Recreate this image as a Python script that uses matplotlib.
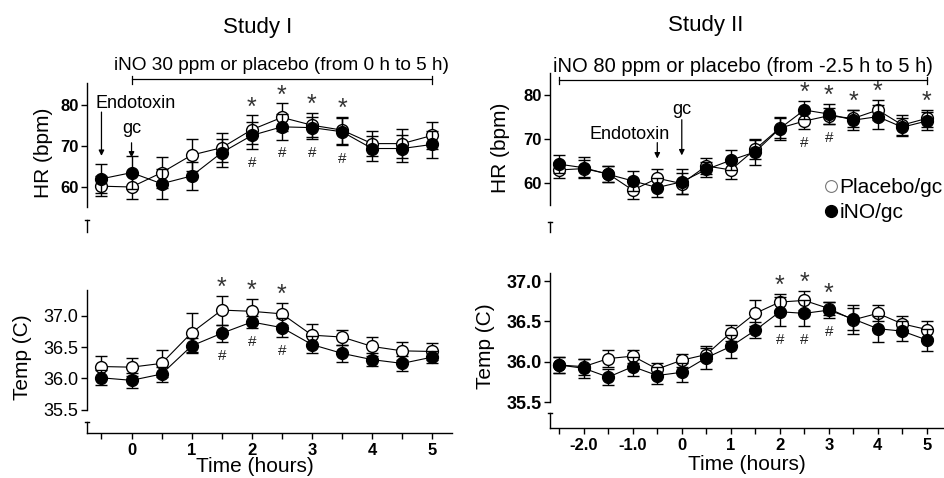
import matplotlib
matplotlib.use("Agg")
import matplotlib.pyplot as plt
from matplotlib.lines import Line2D
import numpy as np

plt.rcParams['font.family'] = ['Liberation Sans', 'DejaVu Sans']

# ---- Study I (time -0.5 .. 5 h) ----
t1 = [-0.5, 0, 0.5, 1, 1.5, 2, 2.5, 3, 3.5, 4, 4.5, 5]
hr1_plac = [60.2, 60.0, 63.5, 67.8, 69.6, 74.0, 77.0, 75.1, 73.9, 70.6, 70.6, 72.6]
hr1_plac_se = [2.5, 3.0, 3.8, 4.0, 3.5, 3.5, 3.4, 3.0, 3.3, 3.0, 3.5, 3.3]
hr1_ino = [62.0, 63.5, 60.8, 62.7, 68.4, 72.6, 74.7, 74.5, 73.5, 69.4, 69.4, 70.4]
hr1_ino_se = [3.5, 4.0, 3.7, 3.5, 3.4, 3.3, 3.1, 2.7, 3.3, 3.0, 3.3, 3.4]
tmp1_plac = [36.19, 36.18, 36.24, 36.73, 37.09, 37.07, 37.03, 36.69, 36.66, 36.51, 36.44, 36.43]
tmp1_plac_se = [0.16, 0.14, 0.21, 0.31, 0.23, 0.20, 0.18, 0.18, 0.12, 0.15, 0.14, 0.14]
tmp1_ino = [36.01, 35.97, 36.07, 36.52, 36.72, 36.90, 36.81, 36.54, 36.40, 36.30, 36.24, 36.34]
tmp1_ino_se = [0.12, 0.12, 0.12, 0.12, 0.14, 0.10, 0.15, 0.14, 0.13, 0.10, 0.12, 0.10]
hr1_star = [2, 2.5, 3, 3.5]
hr1_hash = [2, 2.5, 3, 3.5]
tmp1_star = [1.5, 2, 2.5]
tmp1_hash = [1.5, 2, 2.5]
xt1 = [0, 1, 2, 3, 4, 5]
xt1_labels = ["0", "1", "2", "3", "4", "5"]

# ---- Study II (time -2.5 .. 5 h) ----
t2 = [-2.5, -2, -1.5, -1, -0.5, 0, 0.5, 1, 1.5, 2, 2.5, 3, 3.5, 4, 4.5, 5]
hr2_plac = [63.0, 63.3, 62.1, 58.4, 61.1, 59.9, 63.9, 63.0, 67.7, 72.5, 74.1, 75.3, 74.7, 76.6, 73.2, 74.7]
hr2_plac_se = [1.8, 2.0, 1.8, 2.1, 2.0, 2.4, 1.9, 2.0, 2.2, 2.2, 1.8, 1.8, 2.0, 2.3, 2.2, 2.0]
hr2_ino = [64.3, 63.5, 62.0, 60.5, 59.0, 60.3, 63.1, 65.2, 67.1, 72.4, 76.6, 75.7, 74.3, 75.1, 72.7, 74.1]
hr2_ino_se = [2.0, 2.4, 1.8, 2.3, 2.2, 2.8, 1.8, 2.3, 3.0, 2.6, 2.1, 2.3, 2.2, 2.7, 2.0, 2.0]
tmp2_plac = [35.96, 35.94, 36.04, 36.07, 35.91, 36.02, 36.09, 36.36, 36.60, 36.74, 36.76, 36.66, 36.52, 36.60, 36.47, 36.40]
tmp2_plac_se = [0.10, 0.10, 0.10, 0.08, 0.07, 0.08, 0.08, 0.10, 0.16, 0.10, 0.12, 0.08, 0.18, 0.10, 0.10, 0.10]
tmp2_ino = [35.96, 35.92, 35.81, 35.94, 35.83, 35.87, 36.05, 36.19, 36.39, 36.62, 36.60, 36.64, 36.53, 36.41, 36.38, 36.27]
tmp2_ino_se = [0.10, 0.12, 0.10, 0.12, 0.10, 0.12, 0.14, 0.14, 0.10, 0.18, 0.16, 0.10, 0.14, 0.16, 0.12, 0.14]
hr2_star = [2.5, 3, 3.5, 4, 5]
hr2_hash = [2.5, 3]
tmp2_star = [2, 2.5, 3]
tmp2_hash = [2, 2.5, 3]
xt2 = [-2, -1, 0, 1, 2, 3, 4, 5]
xt2_labels = ["-2.0", "-1.0", "0", "1", "2", "3", "4", "5"]

fig = plt.figure(figsize=(9.44, 4.78), dpi=100)
ax_tl = fig.add_axes([0.0922, 0.5146, 0.3867, 0.3117])
ax_bl = fig.add_axes([0.0922, 0.0941, 0.3867, 0.2992])
ax_tr = fig.add_axes([0.5826, 0.5146, 0.4163, 0.3326])
ax_br = fig.add_axes([0.5826, 0.1046, 0.4163, 0.3243])


def draw_series(ax, t, yp, ep, yi, ei):
    kw = dict(fmt='-o', color='black', lw=0.8, elinewidth=1.0, capsize=4.5,
              capthick=1.0, ms=8.5, mec='black', mew=1.0)
    ax.errorbar(t, yp, yerr=ep, mfc='white', zorder=3, **kw)
    ax.errorbar(t, yi, yerr=ei, mfc='black', zorder=4, **kw)


def marks(ax, t, yp, ep, yi, ei, stars, hashes, star_size=18, hash_size=11):
    for x in stars:
        i = t.index(x)
        top = max(yp[i] + ep[i], yi[i] + ei[i])
        ax.annotate('*', xy=(x, top), xytext=(0, -3), textcoords='offset points',
                    ha='center', va='bottom', fontsize=star_size, color='#333333',
                    annotation_clip=False)
    for x in hashes:
        i = t.index(x)
        bot = min(yp[i] - ep[i], yi[i] - ei[i])
        ax.annotate('#', xy=(x, bot), xytext=(0, -5), textcoords='offset points',
                    ha='center', va='top', fontsize=hash_size, color='#222222',
                    annotation_clip=False)


def style(ax, xlim, ylim, yb, brk, yticks, ylab, ylab_x, bold_y, ysize, bottom_axis):
    ax.set_xlim(*xlim)
    ax.set_ylim(*ylim)
    for s in ['top', 'right']:
        ax.spines[s].set_visible(False)
    ax.spines['left'].set_bounds(*yb)
    ax.spines['left'].set_linewidth(1.0)
    ax.set_yticks(yticks)
    ax.tick_params(axis='y', direction='out', length=4, width=1, pad=2)
    for lab in ax.get_yticklabels():
        lab.set_fontsize(ysize)
        lab.set_fontweight('bold' if bold_y else 'normal')
    # axis break piece
    tr = ax.get_yaxis_transform()
    ax.plot([0, 0], [brk, ylim[0]], transform=tr, color='black', lw=1.0, clip_on=False)
    ax.plot([-0.006, 0.006], [brk, brk], transform=tr, color='black', lw=1.0, clip_on=False)
    ax.text(ylab_x, 0.53, ylab, transform=ax.transAxes, rotation=90,
            ha='center', va='center', fontsize=15)
    if not bottom_axis:
        ax.spines['bottom'].set_visible(False)
        ax.set_xticks([])


def xaxis(ax, majors, labels, lo, hi, xl_x):
    ax.set_xticks(majors)
    ax.set_xticklabels(labels, fontsize=12, fontweight='bold')
    ax.set_xticks(np.arange(lo, hi + 0.01, 1.0), minor=True)
    ax.tick_params(axis='x', which='both', direction='out', length=4, width=1, pad=3)
    ax.spines['bottom'].set_linewidth(1.0)
    ax.text(xl_x, -0.235, "Time (hours)", transform=ax.transAxes,
            ha='center', va='center', fontsize=15)


# ---- top left ----
draw_series(ax_tl, t1, hr1_plac, hr1_plac_se, hr1_ino, hr1_ino_se)
marks(ax_tl, t1, hr1_plac, hr1_plac_se, hr1_ino, hr1_ino_se, hr1_star, hr1_hash)
style(ax_tl, (-0.74, 5.33), (49.0, 85.4), (55, 85.4), 52.0, [60, 70, 80],
      "HR (bpm)", -0.12, True, 12, False)
ax_tl.plot([0, 5], [86.3, 86.3], color='black', lw=0.9, clip_on=False)
for xb in [0, 5]:
    ax_tl.plot([xb, xb], [87.0, 85.2], color='black', lw=0.9, clip_on=False)
ax_tl.annotate("iNO 30 ppm or placebo (from 0 h to 5 h)", xy=(2.5, 86.3),
               xytext=(0, 10), textcoords='offset points', ha='center', va='center',
               fontsize=13.7, annotation_clip=False)
ax_tl.text(-0.6, 80.4, "Endotoxin", ha='left', va='center', fontsize=13)
ax_tl.annotate("", xy=(-0.5, 67.6), xytext=(-0.5, 78.3),
               arrowprops=dict(arrowstyle='-|>', color='black', lw=0.9,
                               mutation_scale=8, shrinkA=0, shrinkB=0))
ax_tl.text(0, 74.4, "gc", ha='center', va='center', fontsize=13)
ax_tl.annotate("", xy=(0, 67.2), xytext=(0, 70.8),
               arrowprops=dict(arrowstyle='-|>', color='black', lw=0.9,
                               mutation_scale=8, shrinkA=0, shrinkB=0))

# ---- bottom left ----
draw_series(ax_bl, t1, tmp1_plac, tmp1_plac_se, tmp1_ino, tmp1_ino_se)
marks(ax_bl, t1, tmp1_plac, tmp1_plac_se, tmp1_ino, tmp1_ino_se, tmp1_star, tmp1_hash)
style(ax_bl, (-0.74, 5.33), (35.13, 37.41), (35.5, 37.41), 35.31,
      [35.5, 36.0, 36.5, 37.0], "Temp (C)", -0.178, False, 13, True)
ax_bl.set_yticklabels(["35.5", "36.0", "36.5", "37.0"], fontsize=13)
xaxis(ax_bl, xt1, xt1_labels, -0.5, 4.5, 0.46)

# ---- top right ----
draw_series(ax_tr, t2, hr2_plac, hr2_plac_se, hr2_ino, hr2_ino_se)
marks(ax_tr, t2, hr2_plac, hr2_plac_se, hr2_ino, hr2_ino_se, hr2_star, hr2_hash)
style(ax_tr, (-2.69, 5.33), (48.9, 85.0), (55, 85.0), 51.1, [60, 70, 80],
      "HR (bpm)", -0.127, True, 12, False)
ax_tr.plot([-2.5, 5], [83.4, 83.4], color='black', lw=0.9, clip_on=False)
for xb in [-2.5, 5]:
    ax_tr.plot([xb, xb], [84.2, 82.4], color='black', lw=0.9, clip_on=False)
ax_tr.annotate("iNO 80 ppm or placebo (from -2.5 h to 5 h)", xy=(1.25, 83.4),
               xytext=(0, 10), textcoords='offset points', ha='center', va='center',
               fontsize=14.5, annotation_clip=False)
ax_tr.text(-1.06, 71.1, "Endotoxin", ha='center', va='center', fontsize=13)
ax_tr.annotate("", xy=(-0.5, 65.6), xytext=(-0.5, 69.2),
               arrowprops=dict(arrowstyle='-|>', color='black', lw=0.9,
                               mutation_scale=8, shrinkA=0, shrinkB=0))
ax_tr.text(0, 76.8, "gc", ha='center', va='center', fontsize=13)
ax_tr.annotate("", xy=(0, 66.3), xytext=(0, 74.4),
               arrowprops=dict(arrowstyle='-|>', color='black', lw=0.9,
                               mutation_scale=8, shrinkA=0, shrinkB=0))
handles = [Line2D([], [], ls='none', marker='o', ms=8.5, mfc='white', mec='#777777', mew=0.8),
           Line2D([], [], ls='none', marker='o', ms=8.5, mfc='black', mec='black')]
ax_tr.legend(handles, ["Placebo/gc", "iNO/gc"], loc='center left',
             bbox_to_anchor=(0.70, 0.2), frameon=False, fontsize=15,
             handlelength=0.6, handletextpad=0.1, borderpad=0, labelspacing=0.3,
             borderaxespad=0)

# ---- bottom right ----
draw_series(ax_br, t2, tmp2_plac, tmp2_plac_se, tmp2_ino, tmp2_ino_se)
marks(ax_br, t2, tmp2_plac, tmp2_plac_se, tmp2_ino, tmp2_ino_se, tmp2_star, tmp2_hash)
style(ax_br, (-2.69, 5.33), (35.18, 37.1), (35.5, 37.1), 35.36,
      [35.5, 36.0, 36.5, 37.0], "Temp (C)", -0.165, True, 13, True)
ax_br.set_yticklabels(["35.5", "36.0", "36.5", "37.0"], fontsize=13, fontweight='bold')
xaxis(ax_br, xt2, xt2_labels, -2.5, 4.5, 0.50)

fig.text(258 / 944, 1 - 27 / 478, "Study I", ha='center', va='center', fontsize=16)
fig.text(706 / 944, 1 - 25 / 478, "Study II", ha='center', va='center', fontsize=16)

fig.savefig("out.png", dpi=100)
